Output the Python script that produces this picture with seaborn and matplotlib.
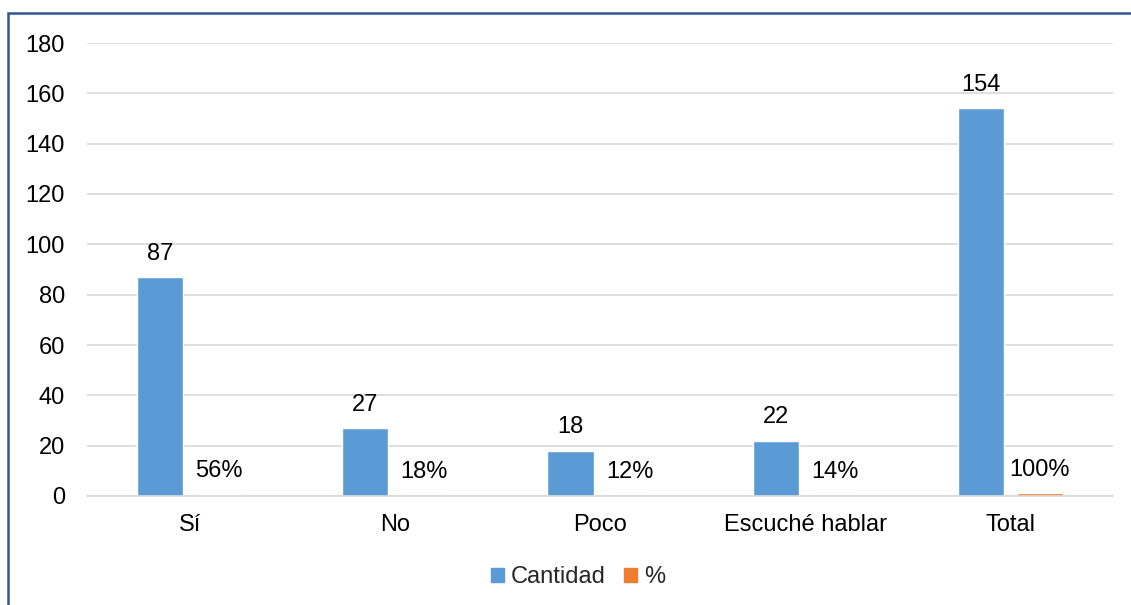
import matplotlib
matplotlib.use("Agg")
import matplotlib.pyplot as plt
import seaborn as sns
import pandas as pd
from matplotlib.patches import Rectangle

categories = ["Sí", "No", "Poco", "Escuché hablar", "Total"]
cantidad = [87, 27, 18, 22, 154]
porcentaje = [0.56, 0.18, 0.12, 0.14, 1.00]
pct_labels = ["56%", "18%", "12%", "14%", "100%"]
series = ["Cantidad", "%"]
colors = ["#5B9BD5", "#ED7D31"]

sns.set_theme(style="white")
plt.rcParams["font.family"] = ["Liberation Sans", "DejaVu Sans"]

df = pd.DataFrame(
    {
        "Categoria": categories * 2,
        "Valor": cantidad + porcentaje,
        "Serie": [series[0]] * len(categories) + [series[1]] * len(categories),
    }
)

FS = 17

fig = plt.figure(figsize=(11.31, 6.05), dpi=100)
ax = fig.add_axes([87 / 1131, 1 - 496 / 605, (1113 - 87) / 1131, (496 - 43) / 605])

sns.barplot(
    data=df,
    x="Categoria",
    y="Valor",
    hue="Serie",
    palette=colors,
    saturation=1,
    width=0.575,
    gap=0.22,
    ax=ax,
    legend=False,
)

# data labels
ax.bar_label(ax.containers[0], labels=[str(v) for v in cantidad],
             padding=9, fontsize=FS, color="#000000")
ax.bar_label(ax.containers[1], labels=pct_labels,
             padding=9, fontsize=FS, color="#000000")

ax.set_ylim(0, 180)
ax.set_yticks(range(0, 181, 20))
ax.set_xlim(-0.5, len(categories) - 0.5)
ax.yaxis.grid(True, color="#D9D9D9", linewidth=1.2)
ax.set_axisbelow(True)
for side in ["top", "right", "left"]:
    ax.spines[side].set_visible(False)
ax.spines["bottom"].set_color("#D9D9D9")
ax.spines["bottom"].set_linewidth(1.2)
ax.tick_params(axis="both", length=0, labelsize=FS, colors="#000000")
ax.tick_params(axis="x", pad=13)
ax.tick_params(axis="y", pad=16)
ax.set_xlabel("")
ax.set_ylabel("")

handles = [Rectangle((0, 0), 1, 1, color=c) for c in colors]
fig.legend(
    handles,
    series,
    loc="center",
    bbox_to_anchor=(578 / 1131, 1 - 577 / 605),
    ncol=2,
    frameon=False,
    fontsize=FS,
    handlelength=0.55,
    handleheight=0.55,
    handletextpad=0.3,
    columnspacing=0.75,
)

# chart frame
fig.patches.append(
    Rectangle((8 / 1131, -0.1), 1.2, (605 - 13) / 605 + 0.1,
              transform=fig.transFigure, fill=False,
              edgecolor="#2F5597", linewidth=1.8)
)

fig.savefig("out.png", dpi=100)
